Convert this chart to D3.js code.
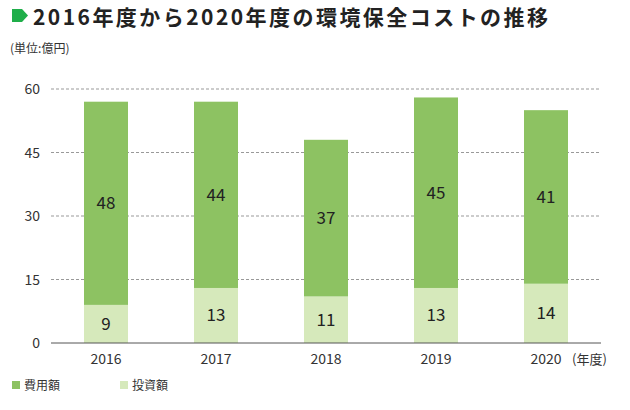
<!DOCTYPE html>
<html><head><meta charset="utf-8">
<script src="https://cdn.jsdelivr.net/npm/d3@7"></script>
<style>body{margin:0;background:#fff}text{font-family:"Noto Sans CJK JP","Noto Sans",sans-serif}</style>
</head><body><svg width="630" height="410"></svg>
<script>
var years = ["2016", "2017", "2018", "2019", "2020"];
var expense = [48, 44, 37, 45, 41];
var invest = [9, 13, 11, 13, 14];
var ticks = [0, 15, 30, 45, 60];

var svg = d3.select("svg");
var x = d3.scaleBand().domain(years).range([51, 601]).paddingInner(0.6).paddingOuter(0.3);
var y = d3.scaleLinear().domain([0, 60]).range([343, 89]);

// title
svg.append("path").attr("d", "M12,9 H22 L28,15.5 L22,22 H12 Z").style("fill", "#1fae4a");
svg.append("text").attr("x", 33).attr("y", 25).attr("font-size", 21).attr("font-weight", "bold")
  .attr("textLength", 515).attr("fill", "#222").text("2016年度から2020年度の環境保全コストの推移");
svg.append("text").attr("x", 10).attr("y", 53).attr("font-size", 12).attr("fill", "#333").text("(単位:億円)");

// grid
svg.selectAll("line.grid").data(ticks.slice(1)).enter().append("line")
  .attr("x1", 51).attr("x2", 601).attr("y1", d => y(d)).attr("y2", d => y(d))
  .style("stroke", "#999").style("stroke-dasharray", "3,2");
svg.selectAll("text.yt").data(ticks).enter().append("text")
  .attr("x", 40).attr("y", d => y(d) + 5).attr("text-anchor", "end")
  .attr("font-size", 14).attr("fill", "#333").text(d => d);

// bars
var g = svg.selectAll("g.bar").data(years).enter().append("g");
g.append("rect").attr("x", d => x(d)).attr("width", x.bandwidth())
  .attr("y", (d, i) => y(invest[i])).attr("height", (d, i) => y(0) - y(invest[i])).style("fill", "#d6e9bb");
g.append("rect").attr("x", d => x(d)).attr("width", x.bandwidth())
  .attr("y", (d, i) => y(invest[i] + expense[i])).attr("height", (d, i) => y(invest[i]) - y(invest[i] + expense[i]))
  .style("fill", "#8dc262");
g.append("text").attr("x", d => x(d) + x.bandwidth() / 2).attr("y", (d, i) => y(invest[i] + expense[i] / 2) + 6)
  .attr("text-anchor", "middle").attr("font-size", 17).attr("fill", "#222").text((d, i) => expense[i]);
g.append("text").attr("x", d => x(d) + x.bandwidth() / 2).attr("y", (d, i) => y(invest[i] / 2) + 6)
  .attr("text-anchor", "middle").attr("font-size", 17).attr("fill", "#222").text((d, i) => invest[i]);

svg.append("line").attr("x1", 51).attr("x2", 601).attr("y1", y(0)).attr("y2", y(0)).style("stroke", "#555");
svg.selectAll("text.xt").data(years).enter().append("text")
  .attr("x", d => x(d) + x.bandwidth() / 2).attr("y", 364).attr("text-anchor", "middle")
  .attr("font-size", 14).attr("fill", "#333").text(d => d);
svg.append("text").attr("x", 572).attr("y", 364).attr("font-size", 13).attr("fill", "#333").text("(年度)");

// legend
var legendText = ["費用額", "投資額"];
var legendColor = ["#8dc262", "#d6e9bb"];
var lg = svg.selectAll("g.lg").data(legendText).enter().append("g")
  .attr("transform", (d, i) => "translate(" + (12 + i * 108) + ",381)");
lg.append("rect").attr("width", 8).attr("height", 8).style("fill", (d, i) => legendColor[i]);
lg.append("text").attr("x", 12).attr("y", 9).attr("font-size", 12).attr("fill", "#333").text(d => d);
</script></body></html>
